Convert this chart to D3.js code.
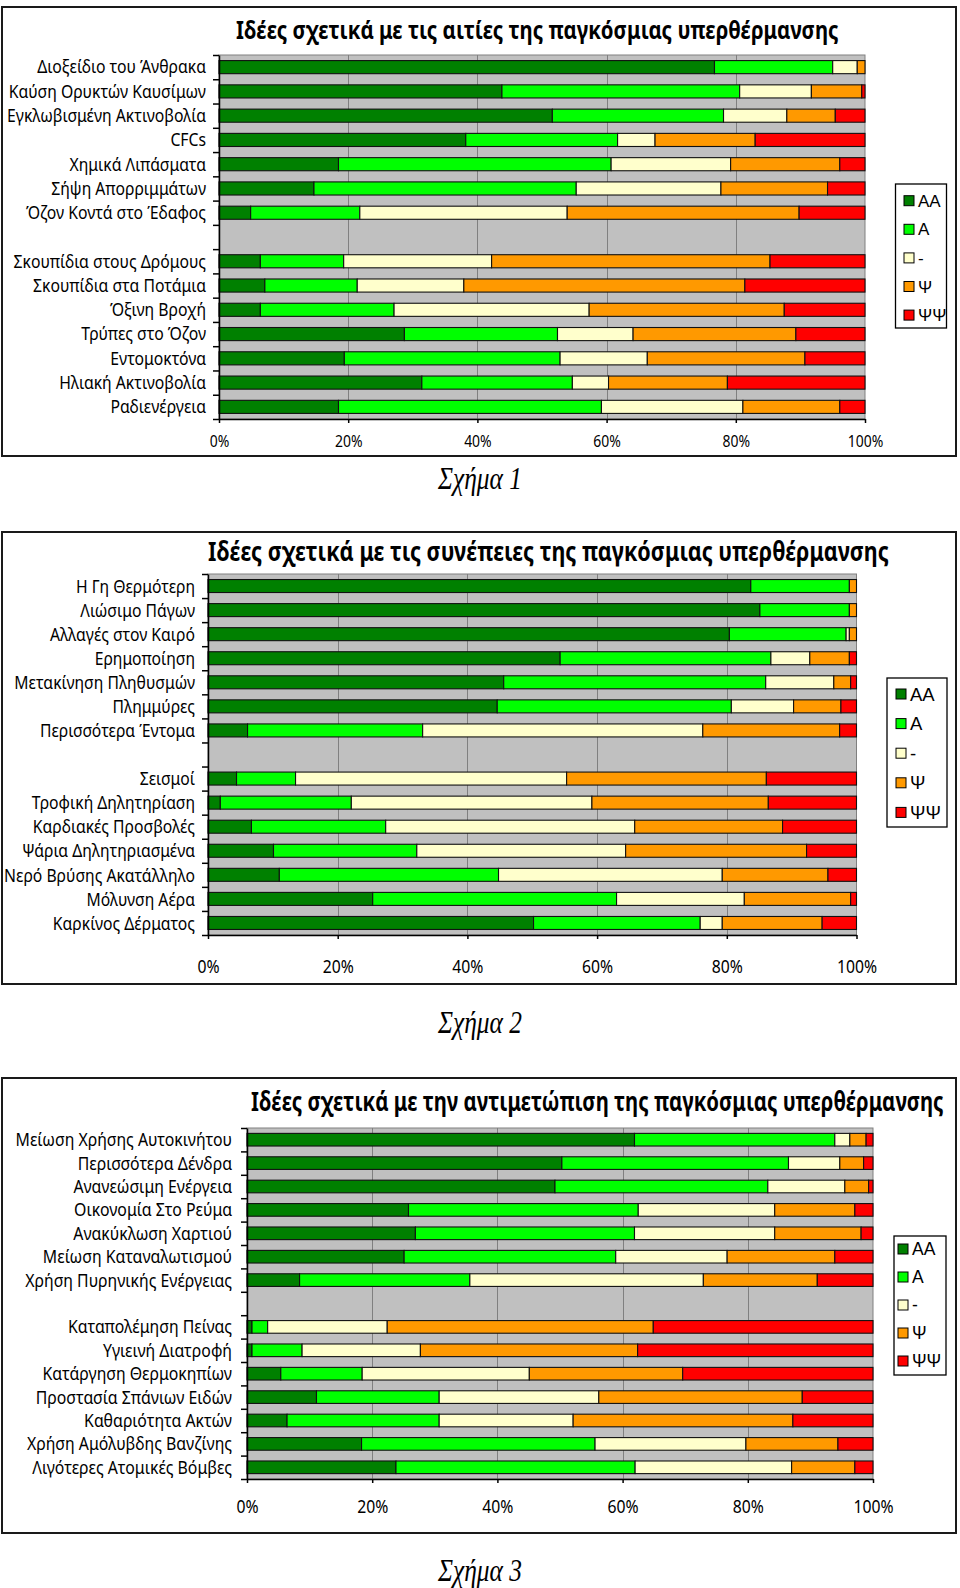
<!DOCTYPE html>
<html><head><meta charset="utf-8">
<script src="https://cdn.jsdelivr.net/npm/d3@7/dist/d3.min.js"></script>
<style>body{margin:0;background:#fff;} svg{display:block;}</style>
</head><body>
<svg id="c" width="960" height="1588"></svg>
<script>
// ---------- shared ----------
const seriesNames = ["AA", "A", "-", "Ψ", "ΨΨ"];
const seriesColors = ["#008000", "#00ff00", "#ffffcc", "#ff9900", "#ff0000"];
const tickValues = [0, 0.2, 0.4, 0.6, 0.8, 1];
const tickLabels = ["0%", "20%", "40%", "60%", "80%", "100%"];
const chartTitles = [
  "Ιδέες σχετικά με τις αιτίες της παγκόσμιας υπερθέρμανσης",
  "Ιδέες σχετικά με τις συνέπειες της παγκόσμιας υπερθέρμανσης",
  "Ιδέες σχετικά με την αντιμετώπιση της παγκόσμιας υπερθέρμανσης"
];
const captions = ["Σχήμα 1", "Σχήμα 2", "Σχήμα 3"];

// ---------- chart 1: causes ----------
const causesCategories = ["Διοξείδιο του Άνθρακα","Καύση Ορυκτών Καυσίμων","Εγκλωβισμένη Ακτινοβολία","CFCs","Χημικά Λιπάσματα","Σήψη Απορριμμάτων","Όζον Κοντά στο Έδαφος","","Σκουπίδια στους Δρόμους","Σκουπίδια στα Ποτάμια","Όξινη Βροχή","Τρύπες στο Όζον","Εντομοκτόνα","Ηλιακή Ακτινοβολία","Ραδιενέργεια"];
const causesAA     = [76.7,43.8,51.6,38.2,18.5,14.7,4.9,null,6.4,7.1,6.4,28.7,19.4,31.4,18.5];
const causesA      = [18.3,36.8,26.5,23.5,42.2,40.6,16.9,null,12.9,14.3,20.7,23.7,33.4,23.3,40.7];
const causesNeutral= [3.8,11.1,9.8,5.8,18.5,22.4,32.1,null,22.9,16.5,30.2,11.7,13.5,5.6,21.9];
const causesPsi    = [1.2,7.8,7.5,15.5,16.9,16.5,35.9,null,43.1,43.5,30.2,25.2,24.4,18.4,15.0];
const causesPsiPsi = [0,0.5,4.6,17.0,3.9,5.8,10.2,null,14.7,18.6,12.5,10.7,9.3,21.3,3.9];

// ---------- chart 2: consequences ----------
const effectsCategories = ["Η Γη Θερμότερη","Λιώσιμο Πάγων","Αλλαγές στον Καιρό","Ερημοποίηση","Μετακίνηση Πληθυσμών","Πλημμύρες","Περισσότερα Έντομα","","Σεισμοί","Τροφική Δηλητηρίαση","Καρδιακές Προσβολές","Ψάρια Δηλητηριασμένα","Νερό Βρύσης Ακατάλληλο","Μόλυνση Αέρα","Καρκίνος Δέρματος"];
const effectsAA     = [83.7,85.1,80.4,54.3,45.6,44.6,6.1,null,4.4,1.9,6.7,10.1,11.0,25.4,50.2];
const effectsA      = [15.2,13.8,18.0,32.5,40.4,36.1,27.0,null,9.1,20.2,20.7,22.1,33.8,37.6,25.7];
const effectsNeutral= [0,0,0.5,6.0,10.5,9.6,43.2,null,41.8,37.1,38.4,32.2,34.5,19.7,3.4];
const effectsPsi    = [1.1,1.1,1.1,6.1,2.6,7.3,21.1,null,30.8,27.2,22.8,27.9,16.3,16.4,15.4];
const effectsPsiPsi = [0,0,0,1.1,0.9,2.4,2.6,null,13.9,13.6,11.4,7.7,4.4,0.9,5.3];

// ---------- chart 3: addressing ----------
const actionsCategories = ["Μείωση Χρήσης Αυτοκινήτου","Περισσότερα Δένδρα","Ανανεώσιμη Ενέργεια","Οικονομία Στο Ρεύμα","Ανακύκλωση Χαρτιού","Μείωση Καταναλωτισμού","Χρήση Πυρηνικής Ενέργειας","","Καταπολέμηση Πείνας","Υγιεινή Διατροφή","Κατάργηση Θερμοκηπίων","Προστασία Σπάνιων Ειδών","Καθαριότητα Ακτών","Χρήση Αμόλυβδης Βανζίνης","Λιγότερες Ατομικές Βόμβες"];
const actionsAA     = [61.9,50.3,49.2,25.8,26.9,25.1,8.4,null,0.8,0.8,5.4,11.1,6.4,18.3,23.8];
const actionsA      = [32.0,36.2,34.0,36.7,35.0,33.8,27.2,null,2.5,8.0,13.0,19.6,24.3,37.3,38.2];
const actionsNeutral= [2.4,8.2,12.3,21.8,22.4,17.8,37.3,null,19.1,18.9,26.7,25.5,21.4,24.1,25.0];
const actionsPsi    = [2.6,3.8,3.8,12.8,13.8,17.2,18.2,null,42.5,34.7,24.5,32.5,35.1,14.7,10.1];
const actionsPsiPsi = [1.1,1.5,0.7,2.9,1.9,6.1,8.9,null,35.1,37.6,30.4,11.3,12.8,5.6,2.9];

// ---------- layout (positions only) ----------
const charts = [
  { cats: causesCategories, series: [causesAA, causesA, causesNeutral, causesPsi, causesPsiPsi],
    box: [2, 7, 956, 456], plot: [219, 865, 55, 419], labelX: 206, labelSize: 17.5, labelK: 0.9,
    title: [236, 603, 39, 25.5], axisY: 447, axisSize: 15.5,
    legend: { x: 895.5, y: 184, w: 51, h: 144, first: 200.7, step: 28.6, font: 17, sw: 10, tx: 918 },
    capY: 489 },
  { cats: effectsCategories, series: [effectsAA, effectsA, effectsNeutral, effectsPsi, effectsPsiPsi],
    box: [2, 532, 956, 984], plot: [208, 856.5, 574, 935], labelX: 195, labelSize: 18.5, labelK: 0.85,
    title: [208, 681, 561, 27], axisY: 972.5, axisSize: 17.5,
    legend: { x: 887, y: 678, w: 60, h: 149, first: 694, step: 29.6, font: 18.5, sw: 10, tx: 910 },
    capY: 1033 },
  { cats: actionsCategories, series: [actionsAA, actionsA, actionsNeutral, actionsPsi, actionsPsiPsi],
    box: [2, 1078, 956, 1533], plot: [247, 873, 1128, 1479], labelX: 232, labelSize: 18, labelK: 0.88,
    title: [251, 693, 1111, 26], axisY: 1513, axisSize: 17.5,
    legend: { x: 894, y: 1236, w: 52, h: 139, first: 1249, step: 28, font: 17.5, sw: 10, tx: 912 },
    capY: 1581 }
];

const SANS = "'Noto Sans', 'Open Sans', sans-serif";
const svg = d3.select("#c");

// horizontal condensing through a transform (text keeps its anchor at tx, ty)
function condense(sel, k, tx, ty) {
  sel.each(function (d, i) {
    const X = typeof tx === "function" ? tx(d, i) : tx;
    const Y = typeof ty === "function" ? ty(d, i) : ty;
    d3.select(this).attr("x", 0).attr("y", 0).attr("transform", `translate(${X},${Y}) scale(${k},1)`);
  });
}

charts.forEach((c, ci) => {
  const g = svg.append("g");
  const [bx0, by0, bx1, by1] = c.box;
  g.append("rect").attr("x", bx0).attr("y", by0).attr("width", bx1 - bx0).attr("height", by1 - by0)
    .attr("fill", "#fff").attr("stroke", "#1a1a1a").attr("stroke-width", 2);

  const [px0, px1, py0, py1] = c.plot;
  const x = d3.scaleLinear().domain([0, 1]).range([px0, px1]);
  const n = c.cats.length;
  const y = d3.scaleBand().domain(d3.range(n)).range([py0, py1]).paddingInner(0.46).paddingOuter(0.23);
  const yEdge = d3.scaleLinear().domain([0, n]).range([py0, py1]);

  // plot area
  g.append("rect").attr("x", px0).attr("y", py0).attr("width", px1 - px0).attr("height", py1 - py0)
    .attr("fill", "#c0c0c0").attr("stroke", "#808080").attr("stroke-width", 1);
  g.selectAll(".grid").data(tickValues.slice(1, -1)).enter().append("line")
    .attr("x1", d => Math.round(x(d)) + 0.5).attr("x2", d => Math.round(x(d)) + 0.5)
    .attr("y1", py0).attr("y2", py1).attr("stroke", "#808080").attr("stroke-width", 1);

  // data rows
  const rows = [];
  c.cats.forEach((cat, i) => {
    if (cat === "") return;
    const r = { idx: i, cat };
    seriesNames.forEach((s, si) => r[s] = c.series[si][i] || 0);
    rows.push(r);
  });
  const stacked = d3.stack().keys(seriesNames).offset(d3.stackOffsetExpand)(rows);

  stacked.forEach((layer, li) => {
    g.append("g").selectAll("rect").data(layer.filter(d => d[1] - d[0] > 0.0005)).enter().append("rect")
      .attr("x", d => x(d[0])).attr("width", d => x(d[1]) - x(d[0]))
      .attr("y", d => y(d.data.idx)).attr("height", y.bandwidth())
      .attr("fill", seriesColors[li]).attr("stroke", "#111").attr("stroke-width", 1.1);
  });

  // y axis: line + boundary ticks
  const yAxis = g.append("g").attr("transform", `translate(${px0},0)`)
    .call(d3.axisLeft(yEdge).tickValues(d3.range(n + 1)).tickFormat("").tickSize(6).tickSizeOuter(0));
  yAxis.selectAll("path,line").attr("stroke", "#000").attr("stroke-width", 1.5);

  // category labels
  const labels = g.append("g").selectAll("text").data(rows).enter().append("text")
    .attr("dy", "0.36em").attr("text-anchor", "end")
    .style("font-family", SANS).style("font-size", c.labelSize + "px").attr("fill", "#000")
    .text(d => d.cat);
  condense(labels, c.labelK, c.labelX, d => y(d.idx) + y.bandwidth() / 2);

  // x axis
  const xAxis = g.append("g").attr("transform", `translate(0,${py1})`)
    .call(d3.axisBottom(x).tickValues(tickValues).tickFormat((d, i) => tickLabels[i]).tickSize(4).tickSizeOuter(0));
  xAxis.selectAll("path,line").attr("stroke", "#000").attr("stroke-width", 1.5);
  const xt = xAxis.selectAll("text").attr("dy", null)
    .style("font-family", SANS).style("font-size", c.axisSize + "px").attr("fill", "#000");
  condense(xt, 0.9, 0, c.axisY - py1);

  // title
  const [tx, tw, tyb, ts] = c.title;
  const t = g.append("text")
    .style("font-family", SANS).style("font-weight", "bold").style("font-size", ts + "px").attr("fill", "#000")
    .text(chartTitles[ci]);
  const tNat = t.node().getComputedTextLength();
  condense(t, tw / tNat, tx, tyb);

  // legend
  const L = c.legend;
  g.append("rect").attr("x", L.x).attr("y", L.y).attr("width", L.w).attr("height", L.h)
    .attr("fill", "#fff").attr("stroke", "#000").attr("stroke-width", 1.3);
  const items = g.append("g").selectAll("g").data(seriesNames).enter().append("g")
    .attr("transform", (d, i) => `translate(0,${L.first + i * L.step})`);
  items.append("rect").attr("x", L.tx - 4 - L.sw).attr("y", -L.sw / 2).attr("width", L.sw).attr("height", L.sw)
    .attr("fill", (d, i) => seriesColors[i]).attr("stroke", "#000").attr("stroke-width", 1);
  items.append("text").attr("x", L.tx).attr("y", 0).attr("dy", "0.36em")
    .style("font-family", "'Liberation Sans', Arial, sans-serif").style("font-size", L.font + "px").attr("fill", "#000")
    .text(d => d);

  // caption
  const cap = svg.append("text").attr("text-anchor", "middle")
    .style("font-family", "'Liberation Serif', 'Times New Roman', serif").style("font-style", "italic")
    .style("font-size", "31px").attr("fill", "#000").text(captions[ci]);
  condense(cap, 0.82, 480, c.capY);
});
</script>
</body></html>
